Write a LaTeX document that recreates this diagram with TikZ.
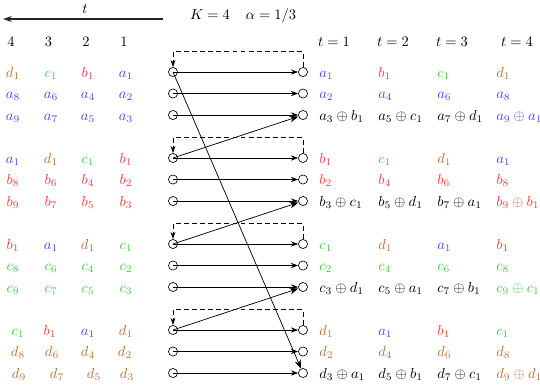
\documentclass[tikz,border=0pt]{standalone}
\usetikzlibrary{arrows.meta}
\definecolor{ca}{RGB}{70,70,255}
\definecolor{cb}{RGB}{255,60,60}
\definecolor{cc}{RGB}{60,205,60}
\definecolor{cd}{RGB}{190,110,50}
\begin{document}
\begin{tikzpicture}[x=0.69pt,y=-0.69pt,
  lbl/.style={anchor=base,inner sep=0pt},
  rlbl/.style={anchor=base west,inner sep=0pt},
  cnode/.style={circle,draw,line width=0.45pt,minimum size=6.3pt,inner sep=0pt},
  flow/.style={-{Stealth[length=5pt,width=3.6pt]},line width=0.5pt},
  cross/.style={-{Stealth[length=6pt,width=4.4pt]},line width=0.5pt},
  backloop/.style={dashed,dash pattern=on 3.3pt off 2.3pt,line width=0.45pt,-{Stealth[length=5pt,width=3.4pt]}},
  timearrow/.style={-{Stealth[length=6pt,width=4pt]},line width=0.7pt,draw=black!85}]
\useasboundingbox (0,0) rectangle (540,385);

% header
\coordinate (ta) at (163,19);
\coordinate (tb) at (3,19);
\draw[timearrow] (ta) -- (tb);
\node[lbl] (tt) at (85,13) {$t$};
\node[lbl] (K) at (210,19.5) {$K=4$};
\node[lbl] (al) at (271,19.5) {$\alpha=1/3$};
\node[lbl] (n4) at (11,46.5) {$4$};
\node[lbl] (n3) at (48.5,46.5) {$3$};
\node[lbl] (n2) at (86,46.5) {$2$};
\node[lbl] (n1) at (124,46.5) {$1$};
\node[lbl] (t1) at (334,46.5) {$t=1$};
\node[lbl] (t2) at (393,46.5) {$t=2$};
\node[lbl] (t3) at (452,46.5) {$t=3$};
\node[lbl] (t4) at (517,46.5) {$t=4$};

% circles and horizontal arrows
\foreach \g in {0,1,2,3} {
  \foreach \r in {0,1,2} {
    \pgfmathsetmacro\yy{72+86*\g+21.5*\r}
    \node[cnode] (L\g\r) at (173,\yy) {};
    \node[cnode] (R\g\r) at (303,\yy) {};
    \draw[flow] (L\g\r.center) -- (R\g\r);
  }
  \draw[backloop] (R\g0.north) -- ++(0,-15.5) -| (L\g0.north);
}
\draw[cross] (L00.center) -- (R32);
\draw[cross] (L10.center) -- (R02);
\draw[cross] (L20.center) -- (R12);
\draw[cross] (L30.center) -- (R22);

% left text, group 1
\node[lbl,text=cd] (la00) at (13,77) {$d_1$};
\node[lbl,text=cc] (la01) at (51,77) {$c_1$};
\node[lbl,text=cb] (la02) at (88,77) {$b_1$};
\node[lbl,text=ca] (la03) at (126,77) {$a_1$};
\node[lbl,text=ca] (la10) at (13,98.5) {$a_8$};
\node[lbl,text=ca] (la11) at (51,98.5) {$a_6$};
\node[lbl,text=ca] (la12) at (88,98.5) {$a_4$};
\node[lbl,text=ca] (la13) at (126,98.5) {$a_2$};
\node[lbl,text=ca] (la20) at (13,120) {$a_9$};
\node[lbl,text=ca] (la21) at (51,120) {$a_7$};
\node[lbl,text=ca] (la22) at (88,120) {$a_5$};
\node[lbl,text=ca] (la23) at (126,120) {$a_3$};
% group 2
\node[lbl,text=ca] (lb00) at (13,163) {$a_1$};
\node[lbl,text=cd] (lb01) at (51,163) {$d_1$};
\node[lbl,text=cc] (lb02) at (88,163) {$c_1$};
\node[lbl,text=cb] (lb03) at (126,163) {$b_1$};
\node[lbl,text=cb] (lb10) at (13,184.5) {$b_8$};
\node[lbl,text=cb] (lb11) at (51,184.5) {$b_6$};
\node[lbl,text=cb] (lb12) at (88,184.5) {$b_4$};
\node[lbl,text=cb] (lb13) at (126,184.5) {$b_2$};
\node[lbl,text=cb] (lb20) at (13,206) {$b_9$};
\node[lbl,text=cb] (lb21) at (51,206) {$b_7$};
\node[lbl,text=cb] (lb22) at (88,206) {$b_5$};
\node[lbl,text=cb] (lb23) at (126,206) {$b_3$};
% group 3
\node[lbl,text=cb] (lc00) at (13,249) {$b_1$};
\node[lbl,text=ca] (lc01) at (51,249) {$a_1$};
\node[lbl,text=cd] (lc02) at (88,249) {$d_1$};
\node[lbl,text=cc] (lc03) at (126,249) {$c_1$};
\node[lbl,text=cc] (lc10) at (13,270.5) {$c_8$};
\node[lbl,text=cc] (lc11) at (51,270.5) {$c_6$};
\node[lbl,text=cc] (lc12) at (88,270.5) {$c_4$};
\node[lbl,text=cc] (lc13) at (126,270.5) {$c_2$};
\node[lbl,text=cc] (lc20) at (13,292) {$c_9$};
\node[lbl,text=cc] (lc21) at (51,292) {$c_7$};
\node[lbl,text=cc] (lc22) at (88,292) {$c_5$};
\node[lbl,text=cc] (lc23) at (126,292) {$c_3$};
% group 4
\node[lbl,text=cc] (ld00) at (18,335) {$c_1$};
\node[lbl,text=cb] (ld01) at (50,335) {$b_1$};
\node[lbl,text=ca] (ld02) at (88,335) {$a_1$};
\node[lbl,text=cd] (ld03) at (126,335) {$d_1$};
\node[lbl,text=cd] (ld10) at (18,356.5) {$d_8$};
\node[lbl,text=cd] (ld11) at (52,356.5) {$d_6$};
\node[lbl,text=cd] (ld12) at (88,356.5) {$d_4$};
\node[lbl,text=cd] (ld13) at (125,356.5) {$d_2$};
\node[lbl,text=cd] (ld20) at (19,378) {$d_9$};
\node[lbl,text=cd] (ld21) at (57,378) {$d_7$};
\node[lbl,text=cd] (ld22) at (94,378) {$d_5$};
\node[lbl,text=cd] (ld23) at (127,378) {$d_3$};

% right text, group 1
\node[rlbl,text=ca] (ra00) at (319,77) {$a_1$};
\node[rlbl,text=cb] (ra01) at (378,77) {$b_1$};
\node[rlbl,text=cc] (ra02) at (437,77) {$c_1$};
\node[rlbl,text=cd] (ra03) at (496,77) {$d_1$};
\node[rlbl,text=ca] (ra10) at (319,98.5) {$a_2$};
\node[rlbl,text=ca] (ra11) at (378,98.5) {$a_4$};
\node[rlbl,text=ca] (ra12) at (437,98.5) {$a_6$};
\node[rlbl,text=ca] (ra13) at (496,98.5) {$a_8$};
\node[rlbl] (ra20) at (319,120) {$a_3\oplus b_1$};
\node[rlbl] (ra21) at (378,120) {$a_5\oplus c_1$};
\node[rlbl] (ra22) at (437,120) {$a_7\oplus d_1$};
\node[rlbl,text=ca] (ra23) at (496,120) {$a_9\oplus a_1$};
% group 2
\node[rlbl,text=cb] (rb00) at (319,163) {$b_1$};
\node[rlbl,text=cc] (rb01) at (378,163) {$c_1$};
\node[rlbl,text=cd] (rb02) at (437,163) {$d_1$};
\node[rlbl,text=ca] (rb03) at (496,163) {$a_1$};
\node[rlbl,text=cb] (rb10) at (319,184.5) {$b_2$};
\node[rlbl,text=cb] (rb11) at (378,184.5) {$b_4$};
\node[rlbl,text=cb] (rb12) at (437,184.5) {$b_6$};
\node[rlbl,text=cb] (rb13) at (496,184.5) {$b_8$};
\node[rlbl] (rb20) at (319,206) {$b_3\oplus c_1$};
\node[rlbl] (rb21) at (378,206) {$b_5\oplus d_1$};
\node[rlbl] (rb22) at (437,206) {$b_7\oplus a_1$};
\node[rlbl,text=cb] (rb23) at (496,206) {$b_9\oplus b_1$};
% group 3
\node[rlbl,text=cc] (rc00) at (319,249) {$c_1$};
\node[rlbl,text=cd] (rc01) at (378,249) {$d_1$};
\node[rlbl,text=ca] (rc02) at (437,249) {$a_1$};
\node[rlbl,text=cb] (rc03) at (496,249) {$b_1$};
\node[rlbl,text=cc] (rc10) at (319,270.5) {$c_2$};
\node[rlbl,text=cc] (rc11) at (378,270.5) {$c_4$};
\node[rlbl,text=cc] (rc12) at (437,270.5) {$c_6$};
\node[rlbl,text=cc] (rc13) at (496,270.5) {$c_8$};
\node[rlbl] (rc20) at (319,292) {$c_3\oplus d_1$};
\node[rlbl] (rc21) at (378,292) {$c_5\oplus a_1$};
\node[rlbl] (rc22) at (437,292) {$c_7\oplus b_1$};
\node[rlbl,text=cc] (rc23) at (496,292) {$c_9\oplus c_1$};
% group 4
\node[rlbl,text=cd] (rd00) at (319,335) {$d_1$};
\node[rlbl,text=ca] (rd01) at (378,335) {$a_1$};
\node[rlbl,text=cb] (rd02) at (437,335) {$b_1$};
\node[rlbl,text=cc] (rd03) at (496,335) {$c_1$};
\node[rlbl,text=cd] (rd10) at (319,356.5) {$d_2$};
\node[rlbl,text=cd] (rd11) at (378,356.5) {$d_4$};
\node[rlbl,text=cd] (rd12) at (437,356.5) {$d_6$};
\node[rlbl,text=cd] (rd13) at (496,356.5) {$d_8$};
\node[rlbl] (rd20) at (319,378) {$d_3\oplus a_1$};
\node[rlbl] (rd21) at (378,378) {$d_5\oplus b_1$};
\node[rlbl] (rd22) at (437,378) {$d_7\oplus c_1$};
\node[rlbl,text=cd] (rd23) at (496,378) {$d_9\oplus d_1$};
\end{tikzpicture}
\end{document}
